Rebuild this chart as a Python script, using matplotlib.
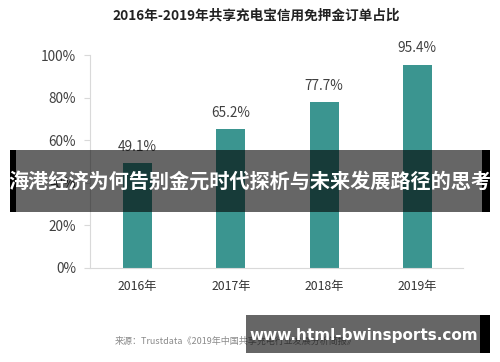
import matplotlib
matplotlib.use("Agg")
import matplotlib.pyplot as plt
from matplotlib.patches import Rectangle

plt.rcParams["font.family"] = ["Noto Sans CJK SC", "DejaVu Sans"]

years = ["2016年", "2017年", "2018年", "2019年"]
shares = [49.1, 65.2, 77.7, 95.4]
yticks = [0, 20, 40, 60, 80, 100]

title = "2016年-2019年共享充电宝信用免押金订单占比"
source = "来源：Trustdata《2019年中国共享充电行业发展分析简报》"
banner_text = "海港经济为何告别金元时代探析与未来发展路径的思考"
site_text = "www.html-bwinsports.com"

bar_colour = "#3b9590"
grid_grey = "#d9d9d9"
text_grey = "#404040"

fig = plt.figure(figsize=(5.0, 3.62), dpi=100, facecolor="white")
ax = fig.add_axes([0.18, 0.26, 0.746, 0.588])

x = list(range(len(years)))
ax.bar(x, shares, width=0.31, color=bar_colour, zorder=2)
for xi, v in zip(x, shares):
    ax.text(xi, v + 4.5, f"{v:.1f}%", ha="center", va="bottom",
            fontsize=9.8, color=text_grey)

ax.set_xlim(-0.51, 3.49)
ax.set_ylim(0, 100)
ax.set_yticks(yticks)
ax.set_yticklabels([f"{t}%" for t in yticks], fontsize=9.8, color=text_grey)
ax.set_xticks(x)
ax.set_xticklabels(years, fontsize=8.8, color="#333333")
ax.tick_params(axis="y", length=4, color=grid_grey, pad=6)
ax.tick_params(axis="x", length=0, pad=9)
for side in ("top", "right"):
    ax.spines[side].set_visible(False)
for side in ("left", "bottom"):
    ax.spines[side].set_color(grid_grey)
    ax.spines[side].set_linewidth(0.8)

fig.text(0.512, 0.958, title, ha="center", va="center", fontsize=9.8,
         fontweight="bold", color="#222222")
fig.text(0.23, 0.058, source, ha="left", va="center", fontsize=6.5,
         color="#8a8a8a")

# overlay banner across the middle
fig.patches.append(Rectangle((0.020, 0.414), 0.012, 0.171, transform=fig.transFigure,
                             facecolor="black", edgecolor="none", zorder=5))
fig.patches.append(Rectangle((0.032, 0.414), 0.932, 0.171, transform=fig.transFigure,
                             facecolor="black", alpha=0.6, edgecolor="none", zorder=5))
fig.patches.append(Rectangle((0.964, 0.414), 0.016, 0.171, transform=fig.transFigure,
                             facecolor="black", edgecolor="none", zorder=5))
fig.text(0.50, 0.500, banner_text, ha="center", va="center", fontsize=14.5,
         fontweight="bold", color="white", zorder=6)

# site banner bottom right
fig.patches.append(Rectangle((0.492, 0.025), 0.468, 0.105, transform=fig.transFigure,
                             facecolor="black", alpha=0.6, edgecolor="none", zorder=5))
fig.patches.append(Rectangle((0.960, 0.025), 0.020, 0.105, transform=fig.transFigure,
                             facecolor="black", edgecolor="none", zorder=5))
fig.text(0.728, 0.072, site_text, ha="center", va="center", fontsize=11,
         fontweight="bold", color="white", family=["DejaVu Sans"], zorder=6)

fig.savefig("out.png", dpi=100, facecolor="white")
